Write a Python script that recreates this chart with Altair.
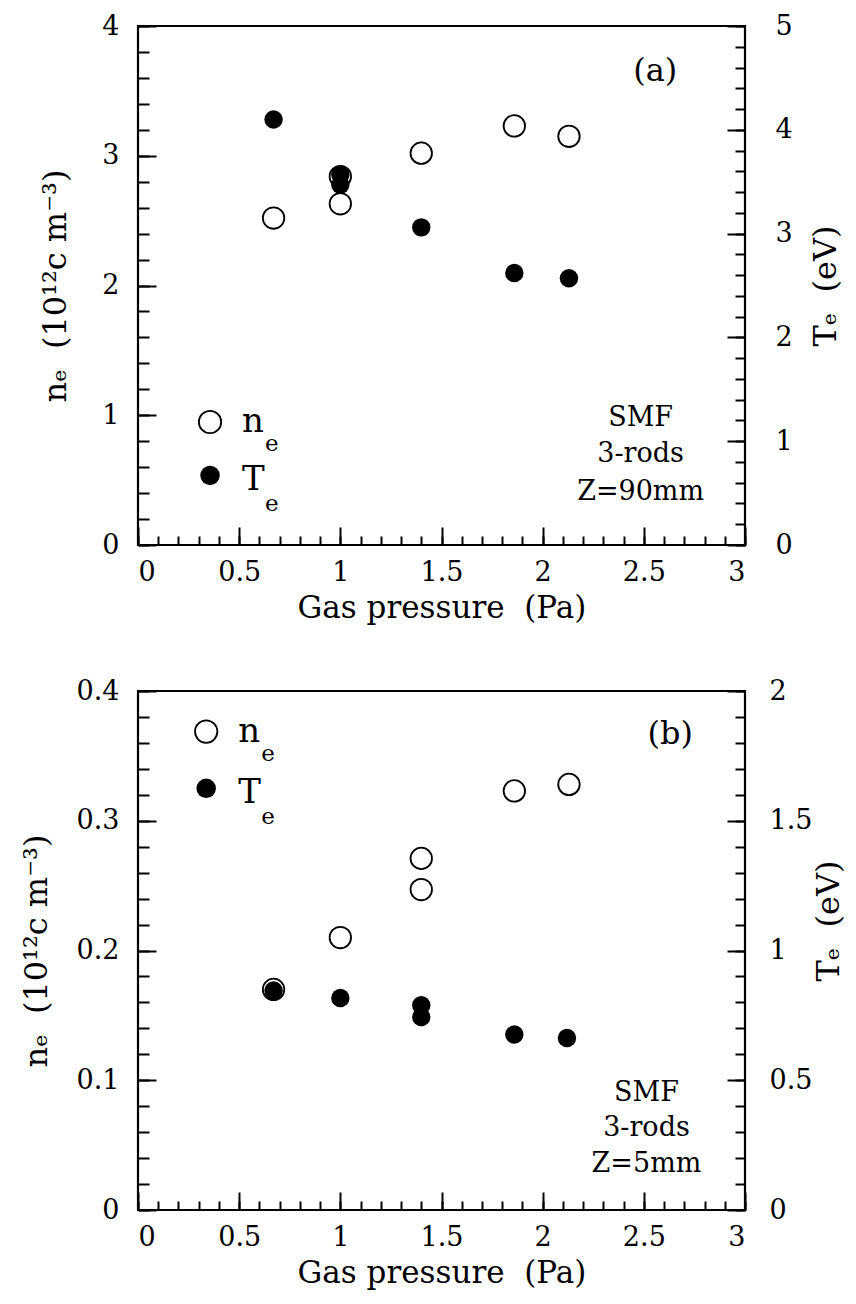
import altair as alt
import pandas as pd

# ---------------- data ----------------
# panel (a)  Z = 90 mm
P_NE_A = [0.67, 1.00, 1.00, 1.40, 1.86, 2.13]
NE_A = [2.52, 2.63, 2.84, 3.02, 3.23, 3.15]
P_TE_A = [0.67, 1.00, 1.00, 1.40, 1.86, 2.13]
TE_A = [4.10, 3.57, 3.47, 3.06, 2.62, 2.57]

# panel (b)  Z = 5 mm
P_NE_B = [0.67, 1.00, 1.40, 1.40, 1.86, 2.13]
NE_B = [0.170, 0.210, 0.271, 0.247, 0.323, 0.328]
P_TE_B = [0.67, 1.00, 1.40, 1.40, 1.86, 2.12]
TE_B = [0.846, 0.817, 0.789, 0.744, 0.676, 0.663]

# axis ticks
X_MAJOR = [0, 0.5, 1, 1.5, 2, 2.5, 3]
X_MINOR = [round(0.1 * i, 2) for i in range(31)]
NE_A_MAJOR = [0, 1, 2, 3, 4]
NE_A_MINOR = [round(0.2 * i, 2) for i in range(21)]
TE_A_MAJOR = [0, 1, 2, 3, 4, 5]
TE_A_MINOR = [round(0.2 * i, 2) for i in range(26)]
NE_B_MAJOR = [0, 0.1, 0.2, 0.3, 0.4]
NE_B_MINOR = [round(0.02 * i, 3) for i in range(21)]
TE_B_MAJOR = [0, 0.5, 1, 1.5, 2]
TE_B_MINOR = [round(0.1 * i, 2) for i in range(21)]

# annotations (text, x in Pa, y in n_e units)
TAG_A = ["(a)"]
NOTE_A = ["SMF", "3-rods", "Z=90mm"]
TAG_B = ["(b)"]
NOTE_B = ["SMF", "3-rods", "Z=5mm"]
LEGEND_NAMES = ["n", "T"]

FONT = "DejaVu Serif"
W, H = 607, 519
NB = "\u00a0"
X_TITLE = "Gas pressure" + NB + NB + "(Pa)"
NE_TITLE = "nₑ" + NB + NB + "(10¹²c" + NB + "m⁻³)"
TE_TITLE = "Tₑ" + NB + NB + "(eV)"


def xs():
    return alt.Scale(domain=[0, 3], nice=False, zero=False)


def ys(dom):
    return alt.Scale(domain=dom, nice=False, zero=False)


def tick_axis(orient, values, size, offset):
    return alt.Axis(orient=orient, values=values, tickSize=size, tickWidth=2,
                    tickColor="black", labels=False, domain=False, grid=False,
                    title=None, offset=offset)


def panel(p_ne, ne, p_te, te, ne_dom, te_dom, ne_major, ne_minor, te_major,
          te_minor, tag, tag_xy, note, note_x, note_y, leg_x, leg_y,
          left_tpad, right_lpad, right_tpad, right_ty):
    dne = pd.DataFrame({"p": p_ne, "v": ne})
    dte = pd.DataFrame({"p": p_te, "v": te})

    # inward ticks (x on bottom edge, n_e on left edge)
    t_minor = alt.Chart(dne).mark_point(opacity=0).encode(
        x=alt.X("p:Q", scale=xs(), axis=tick_axis("top", X_MINOR, 9, -H)),
        y=alt.Y("v:Q", scale=ys(ne_dom), axis=tick_axis("right", ne_minor, 11, -W)),
    )
    t_major = alt.Chart(dne).mark_point(opacity=0).encode(
        x=alt.X("p:Q", scale=xs(), axis=tick_axis("top", X_MAJOR, 18, -H)),
        y=alt.Y("v:Q", scale=ys(ne_dom), axis=tick_axis("right", ne_major, 18, -W)),
    )
    # inward ticks for T_e on right edge
    t_te_minor = alt.Chart(dte).mark_point(opacity=0).encode(
        x=alt.X("p:Q", scale=xs(), axis=None),
        y=alt.Y("v:Q", scale=ys(te_dom), axis=tick_axis("left", te_minor, 10, -W)),
    )
    t_te_major = alt.Chart(dte).mark_point(opacity=0).encode(
        x=alt.X("p:Q", scale=xs(), axis=None),
        y=alt.Y("v:Q", scale=ys(te_dom), axis=tick_axis("left", te_major, 18, -W)),
    )

    lab = dict(labelFont=FONT, labelFontSize=27, labelColor="black",
               titleFont=FONT, titleColor="black", titleFontWeight="normal")

    ne_pts = alt.Chart(dne).mark_point(
        shape="circle", filled=True, fill="white", stroke="black",
        strokeWidth=1.8, size=460, opacity=1
    ).encode(
        x=alt.X("p:Q", scale=xs(), axis=alt.Axis(
            orient="bottom", values=X_MAJOR, format="~g", ticks=False, tickSize=0,
            domain=False, grid=False, labelPadding=14, title=X_TITLE,
            titlePadding=8, titleFontSize=31, **lab)),
        y=alt.Y("v:Q", scale=ys(ne_dom), axis=alt.Axis(
            orient="left", values=ne_major, format="~g", ticks=False, tickSize=0,
            domain=False, grid=False, labelPadding=19, title=NE_TITLE,
            titlePadding=left_tpad, titleFontSize=32, **lab)),
    )
    te_pts = alt.Chart(dte).mark_point(
        shape="circle", filled=True, fill="black", strokeWidth=0,
        size=340, opacity=1
    ).encode(
        x=alt.X("p:Q", scale=xs(), axis=None),
        y=alt.Y("v:Q", scale=ys(te_dom), axis=alt.Axis(
            orient="right", values=te_major, format="~g", ticks=False, tickSize=0,
            domain=False, grid=False, labelPadding=right_lpad, title=TE_TITLE,
            titlePadding=right_tpad, titleAngle=270, titleBaseline="top",
            titleY=right_ty, titleFontSize=32, **lab)),
    )

    dtag = pd.DataFrame({"t": tag, "x": [tag_xy[0]], "y": [tag_xy[1]]})
    tag_l = alt.Chart(dtag).mark_text(font=FONT, fontSize=32, color="black",
                                      align="center", baseline="middle").encode(
        x=alt.X("x:Q", scale=xs(), axis=None),
        y=alt.Y("y:Q", scale=ys(ne_dom), axis=None), text="t:N")

    dnote = pd.DataFrame({"t": note, "x": [note_x] * 3, "y": note_y})
    note_l = alt.Chart(dnote).mark_text(font=FONT, fontSize=27, color="black",
                                        align="center", baseline="middle").encode(
        x=alt.X("x:Q", scale=xs(), axis=None),
        y=alt.Y("y:Q", scale=ys(ne_dom), axis=None), text="t:N")

    # legend
    dl_open = pd.DataFrame({"x": [leg_x], "y": [leg_y[0]], "t": [LEGEND_NAMES[0]]})
    dl_fill = pd.DataFrame({"x": [leg_x], "y": [leg_y[1]], "t": [LEGEND_NAMES[1]]})
    enc = dict(x=alt.X("x:Q", scale=xs(), axis=None),
               y=alt.Y("y:Q", scale=ys(ne_dom), axis=None))
    leg_o = alt.Chart(dl_open).mark_point(
        shape="circle", filled=True, fill="white", stroke="black",
        strokeWidth=1.8, size=500, opacity=1).encode(**enc)
    leg_f = alt.Chart(dl_fill).mark_point(
        shape="circle", filled=True, fill="black", strokeWidth=0,
        size=380, opacity=1).encode(**enc)
    leg_n = alt.Chart(dl_open).mark_text(
        font=FONT, fontSize=34, align="left", baseline="alphabetic",
        dx=32, dy=10, color="black").encode(text="t:N", **enc)
    leg_ne = alt.Chart(dl_open).mark_text(
        font=FONT, fontSize=23, align="left", baseline="alphabetic",
        dx=55, dy=29, color="black").encode(text=alt.value("e"), **enc)
    leg_t = alt.Chart(dl_fill).mark_text(
        font=FONT, fontSize=34, align="left", baseline="alphabetic",
        dx=32, dy=15, color="black").encode(text="t:N", **enc)
    leg_te = alt.Chart(dl_fill).mark_text(
        font=FONT, fontSize=23, align="left", baseline="alphabetic",
        dx=55, dy=36, color="black").encode(text=alt.value("e"), **enc)

    return alt.layer(
        t_minor, t_major, t_te_minor, t_te_major, tag_l, note_l,
        leg_o, leg_f, leg_n, leg_ne, leg_t, leg_te, ne_pts, te_pts
    ).resolve_scale(x="independent", y="independent").resolve_axis(
        x="independent", y="independent").properties(width=W, height=H)


pa = panel(P_NE_A, NE_A, P_TE_A, TE_A, [0, 4], [0, 5], NE_A_MAJOR, NE_A_MINOR,
           TE_A_MAJOR, TE_A_MINOR, TAG_A, (2.556, 3.656), NOTE_A, 2.484,
           [0.976, 0.701, 0.412], 0.356, [0.948, 0.536], 29, 30, 18, H / 2)
pb = panel(P_NE_B, NE_B, P_TE_B, TE_B, [0, 0.4], [0, 2], NE_B_MAJOR, NE_B_MINOR,
           TE_B_MAJOR, TE_B_MINOR, TAG_B, (2.63, 0.367), NOTE_B, 2.513,
           [0.0905, 0.063, 0.0356], 0.337, [0.3687, 0.325], 23, 24, 2, H / 2 - 30)

chart = alt.vconcat(pa, pb, spacing=50).properties(
    padding={"left": 10, "top": 2, "right": 0, "bottom": 2},
    background="white",
).configure_view(stroke="black", strokeWidth=2.2)

chart.save("out.html", embed_options={"renderer": "svg", "actions": False})
